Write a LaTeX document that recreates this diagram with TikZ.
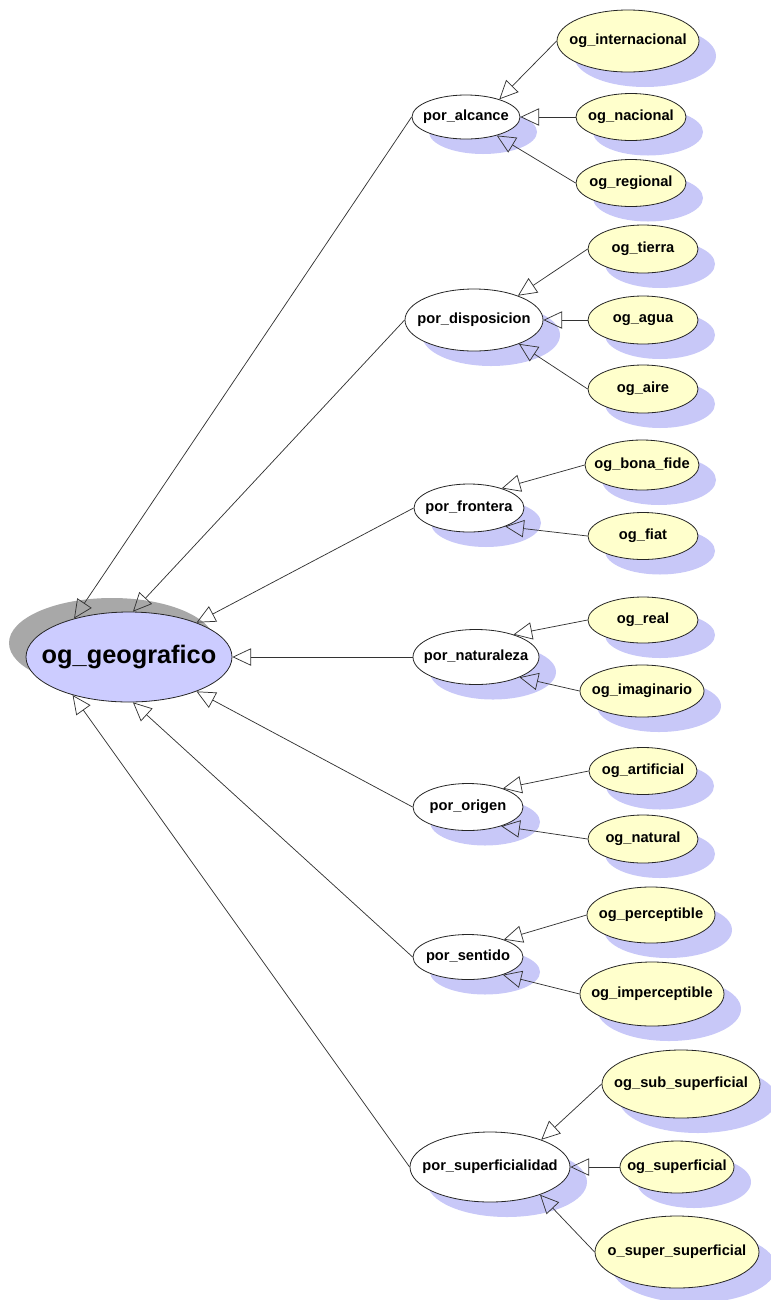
\documentclass[tikz,border=0pt]{standalone}
\usepackage{fontspec}
\setmainfont{Liberation Sans}
\usetikzlibrary{arrows.meta,shapes.geometric,shadows}

\definecolor{lila}{RGB}{204,204,255}
\definecolor{sombra}{RGB}{200,200,248}
\definecolor{crema}{RGB}{255,255,204}
\definecolor{gris}{RGB}{168,168,168}

% el texto no ensancha la elipse
\newcommand\etq[1]{\makebox[0pt]{#1}}

\tikzset{
  clase/.style 2 args={ellipse, draw=black!85, line width=0.6pt, inner sep=0pt,
    minimum width=#1*1.5pt, minimum height=#2*1.5pt,
    font=\fontsize{11}{13}\selectfont\bfseries},
  raiz/.style={fill=lila, font=\fontsize{19}{22}\selectfont\bfseries,
    drop shadow={shadow xshift=-12.75pt, shadow yshift=10.5pt, fill=gris, opacity=1}},
  sub/.style={fill=white,
    drop shadow={shadow xshift=12.75pt, shadow yshift=-11.25pt, fill=sombra, opacity=1}},
  hoja/.style={fill=crema,
    drop shadow={shadow xshift=12.75pt, shadow yshift=-11.25pt, fill=sombra, opacity=1}},
  isa/.style={draw=black!80, line width=0.55pt, -{Triangle[open,length=14pt,width=13pt]}},
}

\begin{document}
\begin{tikzpicture}[x=0.75pt,y=-0.75pt]
\useasboundingbox (0,0) rectangle (771,1300);

% clase raiz
\node[clase={103}{45}, raiz] (geo) at (129,657) {\etq{og\_geografico}};

% criterios
\node[clase={54}{22}, sub] (alcance) at (466,117) {\etq{por\_alcance}};
\node[clase={69}{31}, sub] (disposicion) at (474,320) {\etq{por\_disposicion}};
\node[clase={55}{24}, sub] (frontera) at (469,508) {\etq{por\_frontera}};
\node[clase={63}{27.5}, sub] (naturaleza) at (476,657) {\etq{por\_naturaleza}};
\node[clase={55}{23.5}, sub] (origen) at (468,807) {\etq{por\_origen}};
\node[clase={55}{22.5}, sub] (sentido) at (468,957) {\etq{por\_sentido}};
\node[clase={80}{35}, sub] (superficialidad) at (490,1167) {\etq{por\_superficialidad}};

% hojas
\node[clase={71}{31}, hoja] (internacional) at (628,41) {\etq{og\_internacional}};
\node[clase={55}{23.5}, hoja] (nacional) at (631,117) {\etq{og\_nacional}};
\node[clase={55}{23.5}, hoja] (regional) at (631,183) {\etq{og\_regional}};

\node[clase={55}{24}, hoja] (tierra) at (643,249) {\etq{og\_tierra}};
\node[clase={55}{24}, hoja] (agua) at (643,320) {\etq{og\_agua}};
\node[clase={55}{24}, hoja] (aire) at (643,389) {\etq{og\_aire}};

\node[clase={57}{25}, hoja] (bonafide) at (642,465) {\etq{og\_bona\_fide}};
\node[clase={55}{23.5}, hoja] (fiat) at (643,536) {\etq{og\_fiat}};

\node[clase={55}{23}, hoja] (real) at (643,620) {\etq{og\_real}};
\node[clase={62}{26}, hoja] (imaginario) at (642,691) {\etq{og\_imaginario}};

\node[clase={54}{23.5}, hoja] (artificial) at (643,771) {\etq{og\_artificial}};
\node[clase={55}{24}, hoja] (natural) at (643,839) {\etq{og\_natural}};

\node[clase={64}{28}, hoja] (perceptible) at (651,915) {\etq{og\_perceptible}};
\node[clase={72}{32}, hoja] (imperceptible) at (652,994) {\etq{og\_imperceptible}};

\node[clase={79}{34}, hoja] (subsup) at (681,1084) {\etq{og\_sub\_superficial}};
\node[clase={57}{26}, hoja] (superficial) at (677,1167) {\etq{og\_superficial}};
\node[clase={82}{36}, hoja] (supersup) at (677,1252) {\etq{o\_super\_superficial}};

% criterio -> raiz
\draw[isa] (alcance.west) -- (geo.145);
\draw[isa] (disposicion.west) -- (geo.85);
\draw[isa] (frontera.west) -- (geo.27);
\draw[isa] (naturaleza.west) -- (geo.east);
\draw[isa] (origen.west) -- (geo.-27);
\draw[isa] (sentido.west) -- (geo.-85);
\draw[isa] (superficialidad.west) -- (geo.-146);

% hoja -> criterio
\draw[isa] (internacional.west) -- (alcance.28);
\draw[isa] (nacional.west) -- (alcance.east);
\draw[isa] (regional.west) -- (alcance.-31);
\draw[isa] (tierra.west) -- (disposicion.29);
\draw[isa] (agua.west) -- (disposicion.east);
\draw[isa] (aire.west) -- (disposicion.-28);
\draw[isa] (bonafide.west) -- (frontera.31);
\draw[isa] (fiat.west) -- (frontera.-27);
\draw[isa] (real.west) -- (naturaleza.31);
\draw[isa] (imaginario.west) -- (naturaleza.-25);
\draw[isa] (artificial.west) -- (origen.28);
\draw[isa] (natural.west) -- (origen.-30);
\draw[isa] (perceptible.west) -- (sentido.26);
\draw[isa] (imperceptible.west) -- (sentido.-27);
\draw[isa] (subsup.west) -- (superficialidad.28);
\draw[isa] (superficial.west) -- (superficialidad.east);
\draw[isa] (supersup.west) -- (superficialidad.-29);
\end{tikzpicture}
\end{document}
